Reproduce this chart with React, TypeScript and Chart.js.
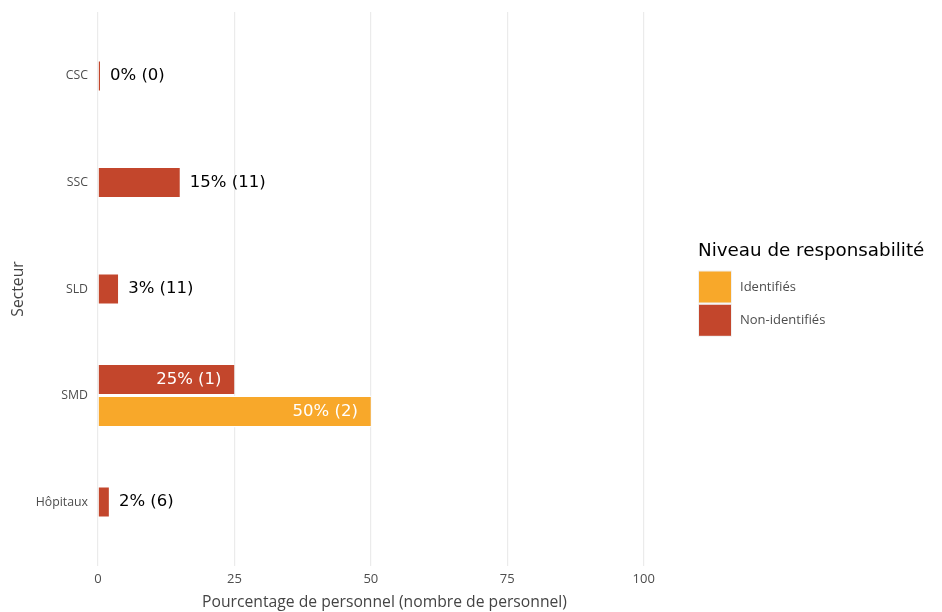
import React, { useEffect, useRef } from "react";
import { Chart, registerables } from "chart.js";

Chart.register(...registerables);

const categories = ["CSC", "SSC", "SLD", "SMD", "Hôpitaux"];
const nonIdentifiedPct = [0, 15, 3.7, 25, 2];
const nonIdentifiedShown = [0, 15, 3, 25, 2];
const nonIdentifiedCount = [0, 11, 11, 1, 6];
const identifiedPct = [null, null, null, 50, null];
const identifiedShown = [null, null, null, 50, null];
const identifiedCount = [null, null, null, 2, null];
const seriesNames = ["Identifiés", "Non-identifiés"];
const legendTitle = "Niveau de responsabilité";
const xTitle = "Pourcentage de personnel (nombre de personnel)";
const yTitle = "Secteur";

const ORANGE = "#F8A82A";
const RED = "#C3462C";
const AXIS_FONT = "'Open Sans', sans-serif";
const LABEL_FONT = "'DejaVu Sans', sans-serif";

const labelPlugin = {
  id: "barLabels",
  afterDatasetsDraw(chart: any) {
    const ctx = chart.ctx;
    ctx.save();
    ctx.font = `16.5px ${LABEL_FONT}`;
    ctx.textBaseline = "middle";
    chart.data.datasets.forEach((ds: any, di: number) => {
      const meta = chart.getDatasetMeta(di);
      meta.data.forEach((el: any, i: number) => {
        const v = ds.data[i];
        if (v === null || v === undefined) return;
        const text = `${ds.shown[i]}% (${ds.counts[i]})`;
        const { x, y } = el.getProps(["x", "y"], true);
        if (v >= 20) {
          ctx.fillStyle = "#ffffff";
          ctx.textAlign = "right";
          ctx.fillText(text, x - 13, y);
        } else {
          ctx.fillStyle = "#000000";
          ctx.textAlign = "left";
          ctx.fillText(text, x + 10, y);
        }
      });
    });
    ctx.restore();
  },
};

const legendPlugin = {
  id: "sideLegend",
  afterDraw(chart: any) {
    const ctx = chart.ctx;
    ctx.save();
    ctx.font = `18.3px ${LABEL_FONT}`;
    ctx.fillStyle = "#000000";
    ctx.textAlign = "left";
    ctx.textBaseline = "middle";
    ctx.fillText(legendTitle, 698, 251);
    const items = [...chart.data.datasets].reverse();
    items.forEach((ds: any, k: number) => {
      const top = 271.5 + k * 33.3;
      ctx.fillStyle = "#F0F0F0";
      ctx.fillRect(698, top - 1, 34, 33);
      ctx.fillStyle = ds.backgroundColor;
      ctx.fillRect(699, top, 32, 31);
      ctx.font = `13px ${AXIS_FONT}`;
      ctx.fillStyle = "#4D4D4D";
      ctx.fillText(ds.label, 740, top + 15.5);
    });
    ctx.restore();
  },
};

export default function App() {
  const canvasRef = useRef<HTMLCanvasElement | null>(null);

  useEffect(() => {
    if (!canvasRef.current) return;
    const barStyle = {
      barThickness: 32,
      skipNull: true,
      minBarLength: 2,
      borderColor: "#ffffff",
      borderWidth: { top: 1.5, bottom: 1.5, left: 0, right: 0 },
      borderSkipped: false,
      inflateAmount: 0,
    };
    const chart = new Chart(canvasRef.current, {
      type: "bar",
      data: {
        labels: categories,
        datasets: [
          {
            label: seriesNames[1],
            data: nonIdentifiedPct,
            backgroundColor: RED,
            shown: nonIdentifiedShown,
            counts: nonIdentifiedCount,
            ...barStyle,
          } as any,
          {
            label: seriesNames[0],
            data: identifiedPct,
            backgroundColor: ORANGE,
            shown: identifiedShown,
            counts: identifiedCount,
            ...barStyle,
          } as any,
        ],
      },
      options: {
        responsive: false,
        animation: false,
        indexAxis: "y",
        layout: { padding: { left: 0, right: 271, top: 12, bottom: 0 } },
        plugins: {
          legend: { display: false },
          tooltip: { enabled: false },
        },
        scales: {
          x: {
            type: "linear",
            position: "bottom",
            min: 0,
            max: 105,
            afterFit: (s: any) => {
              s.height = 46;
              s.paddingLeft = 0;
              s.paddingRight = 0;
            },
            ticks: {
              stepSize: 25,
              includeBounds: false,
              padding: 5,
              color: "#4D4D4D",
              font: { family: AXIS_FONT, size: 13 },
            },
            grid: { color: "#EBEBEB", lineWidth: 1.2, drawTicks: false },
            border: { display: false },
            title: {
              display: true,
              text: xTitle,
              color: "#444444",
              font: { family: AXIS_FONT, size: 15.7 },
              padding: { top: 0, bottom: 0 },
            },
          },
          y: {
            type: "category",
            afterFit: (s: any) => {
              s.width = 98;
              s.paddingTop = 0;
              s.paddingBottom = 0;
            },
            afterBuildTicks: (s: any) => {
              s._startValue = -0.6;
              s._valueRange = categories.length + 0.2;
            },
            ticks: {
              padding: 10,
              color: "#4D4D4D",
              font: { family: AXIS_FONT, size: 12.3 },
            },
            grid: { display: false, drawTicks: false },
            border: { display: false },
            title: {
              display: true,
              text: yTitle,
              color: "#444444",
              font: { family: AXIS_FONT, size: 15.7 },
              padding: { top: 9, bottom: 0 },
            },
          },
        },
      } as any,
      plugins: [labelPlugin, legendPlugin],
    });
    return () => chart.destroy();
  }, []);

  return (
    <div style={{ position: "fixed", left: 0, top: 0, width: 942, height: 612, background: "#ffffff" }}>
      <canvas ref={canvasRef} width={942} height={612} style={{ display: "block" }} />
    </div>
  );
}
